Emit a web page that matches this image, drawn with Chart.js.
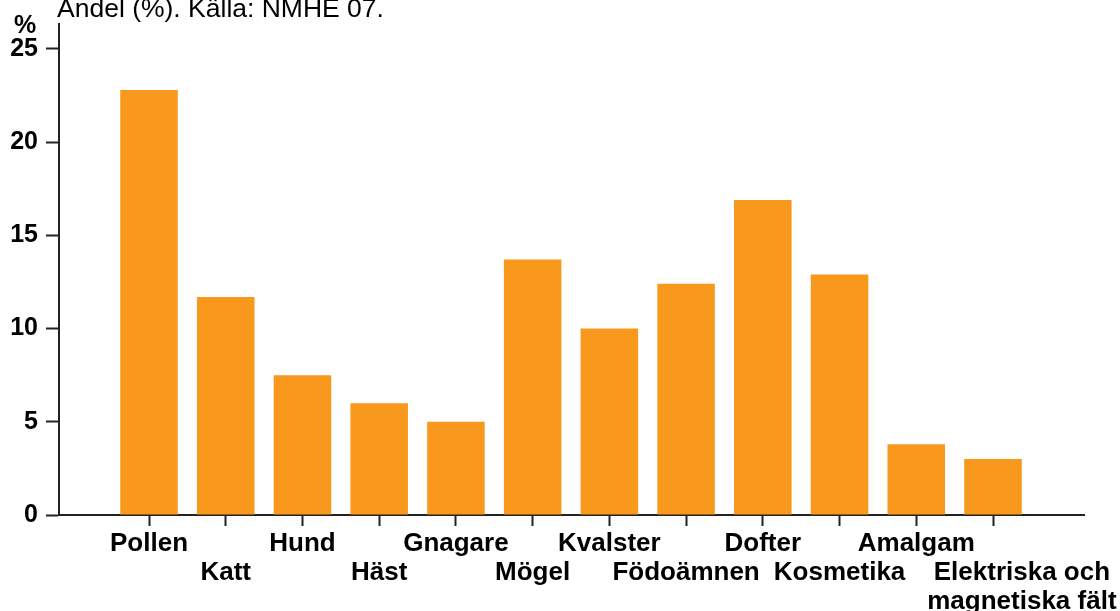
<!DOCTYPE html>
<html>
<head>
<meta charset="utf-8">
<script src="https://cdn.jsdelivr.net/npm/chart.js@4/dist/chart.umd.min.js"></script>
<style>
  html, body { margin: 0; padding: 0; background: #fff; }
  #wrap { width: 1120px; height: 611px; }
</style>
</head>
<body>
<div id="wrap"><canvas id="allergyChart"></canvas></div>
<script>
// Data
const categories = ['Pollen', 'Katt', 'Hund', 'Häst', 'Gnagare', 'Mögel', 'Kvalster',
    'Födoämnen', 'Dofter', 'Kosmetika', 'Amalgam', 'Elektriska och magnetiska fält'];
const shares = [22.8, 11.7, 7.5, 6.0, 5.0, 13.7, 10.0, 12.4, 16.9, 12.9, 3.8, 3.0];
const yTicks = [0, 5, 10, 15, 20, 25];
const titleText = 'Andel (%). Källa: NMHE 07.';
const yUnit = '%';

const barColor = '#F8991E';
const axisColor = '#222222';
const font = 'Arial, "Liberation Sans", sans-serif';

// staggered labels: odd positions drop one line, the long one splits in two
function tickLabel(i) {
    const name = categories[i];
    if (i === categories.length - 1) {
        const pad = '        ';
        return ['', pad + 'Elektriska och', pad + 'magnetiska fält'];
    }
    return i % 2 === 0 ? [name] : ['', name];
}

// Text above the plot: title (cut by the top edge) and the y unit
const headerText = {
    id: 'headerText',
    afterDraw(chart) {
        const ctx = chart.ctx;
        ctx.save();
        ctx.fillStyle = '#000';
        ctx.textBaseline = 'alphabetic';
        ctx.textAlign = 'left';
        ctx.font = '26.5px ' + font;
        ctx.fillText(titleText, 57, 17);
        ctx.textAlign = 'center';
        ctx.font = 'bold 25px ' + font;
        ctx.fillText(yUnit, 25, 33);
        ctx.restore();
    }
};

const ctx = document.getElementById('allergyChart').getContext('2d');
const allergyChart = new Chart(ctx, {
    type: 'bar',
    data: {
        datasets: [{
            data: shares.map((v, i) => ({ x: i + 1, y: v })),
            backgroundColor: barColor,
            borderWidth: 0,
            barPercentage: 0.75,
            categoryPercentage: 1
        }]
    },
    options: {
        responsive: true,
        maintainAspectRatio: false,
        animation: false,
        layout: { padding: { top: 24, right: 36, left: 0, bottom: 0 } },
        scales: {
            x: {
                type: 'linear',
                offset: false,
                min: -0.173,
                max: 13.186,
                afterBuildTicks: axis => {
                    axis.ticks = categories.map((c, i) => ({ value: i + 1 }));
                },
                afterFit: axis => {
                    axis.height = 96;
                    // let the last label run into the right margin
                    axis.paddingLeft = 0;
                    axis.paddingRight = 0;
                },
                border: { display: true, color: axisColor, width: 2 },
                grid: {
                    display: true,
                    offset: false,
                    drawOnChartArea: false,
                    drawTicks: true,
                    tickLength: 11,
                    tickWidth: 2,
                    tickColor: axisColor
                },
                ticks: {
                    autoSkip: false,
                    maxRotation: 0,
                    minRotation: 0,
                    padding: 3,
                    color: '#000',
                    font: { family: font, size: 26, weight: 'bold', lineHeight: 1.115 },
                    callback: v => tickLabel(v - 1)
                }
            },
            y: {
                min: 0,
                max: 26.34,
                afterBuildTicks: axis => {
                    axis.ticks = yTicks.map(v => ({ value: v }));
                },
                afterFit: axis => { axis.width = 59; },
                border: { display: true, color: axisColor, width: 2 },
                grid: {
                    display: true,
                    drawOnChartArea: false,
                    drawTicks: true,
                    tickLength: 13,
                    tickWidth: 2,
                    tickColor: axisColor
                },
                ticks: {
                    padding: 8,
                    color: '#000',
                    font: { family: font, size: 25, weight: 'bold' }
                }
            }
        },
        plugins: {
            legend: { display: false },
            tooltip: { enabled: false }
        }
    },
    plugins: [headerText]
});
</script>
</body>
</html>
